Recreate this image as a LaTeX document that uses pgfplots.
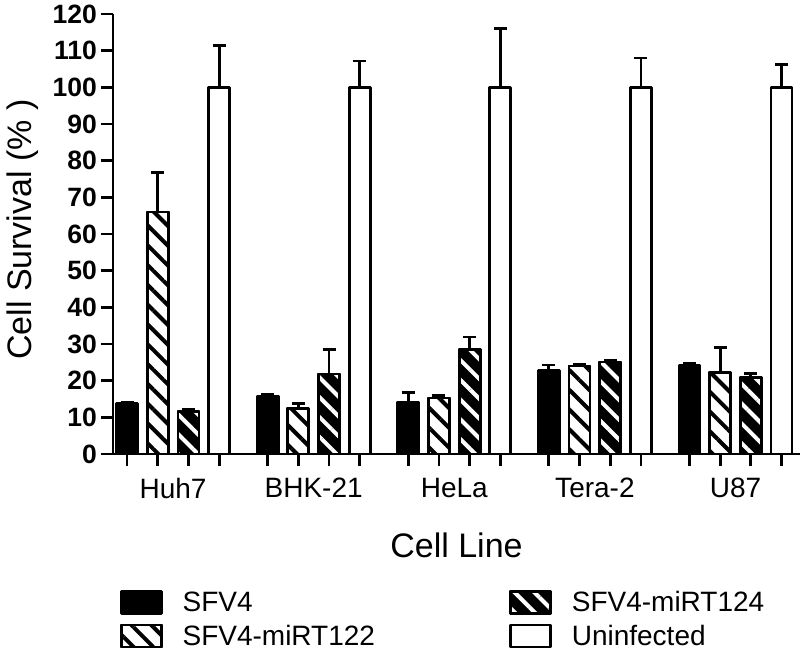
\documentclass[border=0pt]{standalone}
\usepackage{fontspec}
\setmainfont{Liberation Sans}
\usepackage{pgfplots}
\usepackage{pgfplotstable}
\pgfplotsset{compat=1.18}
\usetikzlibrary{patterns.meta}

\pgfplotstableread{
x y e
0 13.8 0.4
4.58 15.8 0.4
9.16 14.2 2.6
13.74 22.7 1.6
18.32 24.2 0.6
}\sfv
\pgfplotstableread{
x y e
1 66.0 10.8
5.58 12.4 1.4
10.16 15.3 0.7
14.74 24.0 0.5
19.32 22.3 6.7
}\mirA
\pgfplotstableread{
x y e
2 11.7 0.4
6.58 21.8 6.7
11.16 28.5 3.4
15.74 25.1 0.3
20.32 20.9 1.0
}\mirB
\pgfplotstableread{
x y e
3 100 11.4
7.58 100 7.2
12.16 100 16.0
16.74 100 8.0
21.32 100 6.3
}\uninf

\pgfplotsset{
 every error bar/.append style={line width=2.8pt, black, solid},
 mybar/.style={ybar, bar width=0.684, bar shift=0pt, line width=2.8pt, draw=black, line join=round,
   legend image code/.code={\draw[##1, line width=2.8pt] (0pt,-11pt) rectangle (40pt,11pt);},
   error bars/y dir=plus, error bars/y explicit,
   error bars/error bar style={line width=2.8pt, black, solid},
   error bars/error mark options={black, line width=2.8pt, mark size=6.5pt, rotate=90}},
}

\begin{document}
\begin{tikzpicture}
\useasboundingbox (0pt,0pt) rectangle (800pt,-652pt);
\begin{axis}[
 at={(113pt,-454pt)}, anchor=south west,
 scale only axis, width=687pt, height=440pt,
 xmin=-0.456, xmax=21.92, ymin=0, ymax=120,
 clip=false,
 axis x line*=bottom, axis y line*=left,
 axis line style={line width=2.8pt, -},
 every tick/.style={black, line width=2.8pt},
 tick align=outside,
 major tick length=12pt,
 xtick={0,1,2,3,4.58,5.58,6.58,7.58,9.16,10.16,11.16,12.16,13.74,14.74,15.74,16.74,18.32,19.32,20.32,21.32},
 xticklabels={},
 extra x ticks={1.5,6.08,10.66,15.24,19.82},
 extra x tick labels={Huh7,BHK-21,HeLa,Tera-2,U87},
 extra x tick style={major tick length=0pt,
   xticklabel style={anchor=north, inner sep=0pt, yshift=-24pt, font=\fontsize{28}{30}\selectfont}},
 ytick={0,10,...,120},
 /pgf/number format/assume math mode=true,
 yticklabel style={anchor=east, inner sep=0pt, xshift=-4pt, font=\fontsize{26.5}{28}\selectfont\bfseries},
 xlabel={Cell Line},
 xlabel style={at={(axis description cs:0.5,-0.207)}, anchor=center, font=\fontsize{34}{36}\selectfont},
 ylabel={Cell Survival (\% )},
 ylabel style={at={(axis description cs:-0.131,0.51)}, anchor=center, rotate=0, font=\fontsize{34}{36}\selectfont},
 legend columns=2, transpose legend,
 legend cell align=left,
 legend style={at={(axis description cs:0.0096,-0.307)}, anchor=north west, draw=none, fill=none,
   inner sep=0pt, row sep=8pt, font=\fontsize{28}{30}\selectfont,
   /tikz/column 2/.append style={column sep=132pt},
   /tikz/every odd column/.append style={column sep=18pt}},
]
\addplot[mybar, fill=black] table[x=x, y=y, y error=e] {\sfv};
\addlegendentry{SFV4}
\addplot[mybar, fill=none, preaction={fill=white}, preaction={pattern={Lines[angle=-45,distance=14pt,line width=4pt]}, pattern color=black}] table[x=x, y=y, y error=e] {\mirA};
\addlegendentry{SFV4-miRT122}
\addplot[mybar, fill=none, preaction={fill=black}, preaction={pattern={Lines[angle=-45,distance=14pt,line width=4pt]}, pattern color=white}] table[x=x, y=y, y error=e] {\mirB};
\addlegendentry{SFV4-miRT124}
\addplot[mybar, fill=white] table[x=x, y=y, y error=e] {\uninf};
\addlegendentry{Uninfected}
\end{axis}
\end{tikzpicture}
\end{document}
